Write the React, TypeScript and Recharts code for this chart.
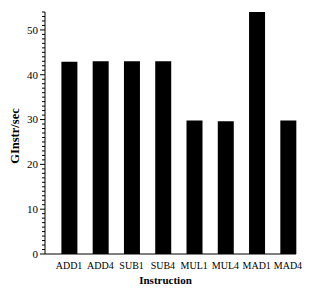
import React from 'react';
import { BarChart, Bar, XAxis, YAxis, Label } from 'recharts';

const categories = ['ADD1', 'ADD4', 'SUB1', 'SUB4', 'MUL1', 'MUL4', 'MAD1', 'MAD4'];
const ginstrPerSec = [42.9, 43.0, 43.0, 43.0, 29.8, 29.6, 54.0, 29.8];
const majorTicks = [0, 10, 20, 30, 40, 50];
const yMax = 54;
const minorTicks = Array.from({ length: yMax + 1 }, (_, i) => i);

const data = categories.map((c, i) => ({ instruction: c, value: ginstrPerSec[i] }));

const FONT = '"Liberation Serif", "Times New Roman", serif';

const YTick = (props: any) => {
  const { x, y, payload } = props;
  const major = majorTicks.includes(payload.value);
  return (
    <g>
      <line x1={x - (major ? 5 : 3)} x2={x} y1={y} y2={y} stroke="#000" strokeWidth={1} />
      {major && (
        <text x={x - 7} y={y} dy="0.35em" textAnchor="end" fontSize={11} fontFamily={FONT} fill="#000">
          {payload.value}
        </text>
      )}
    </g>
  );
};

const YTitle = (props: any) => {
  const vb = props.viewBox || { x: 0, y: 0, width: 45, height: 242 };
  const cx = vb.x + 15;
  const cy = vb.y + vb.height / 2 + 3;
  return (
    <text
      x={cx}
      y={cy}
      dy="0.35em"
      transform={`rotate(-90, ${cx}, ${cy})`}
      textAnchor="middle"
      fontSize={12.5}
      fontWeight="bold"
      fontFamily={FONT}
      fill="#000"
    >
      GInstr/sec
    </text>
  );
};

export default function App() {
  return (
    <div style={{ position: 'absolute', left: 0, top: 0, width: 320, height: 296, background: '#fff' }}>
      <BarChart width={320} height={296} data={data} margin={{ top: 12, right: 24, bottom: 0, left: 0 }}>
        <XAxis
          dataKey="instruction"
          height={42}
          padding={{ left: 8.4, right: -7.6 }}
          tickLine={false}
          axisLine={{ stroke: '#000' }}
          interval={0}
          tick={{ fontSize: 10, fontFamily: FONT, fill: '#000' }}
        >
          <Label value="Instruction" position="insideBottom" offset={12} dx={-5}
            style={{ fontSize: 11, fontWeight: 'bold', fontFamily: FONT, fill: '#000' }} />
        </XAxis>
        <YAxis
          width={45}
          domain={[0, yMax]}
          ticks={minorTicks}
          interval={0}
          tickSize={0}
          tickMargin={0}
          tickLine={false}
          axisLine={{ stroke: '#000' }}
          tick={<YTick />}
          allowDataOverflow
        >
          <Label content={<YTitle />} position="center" />
        </YAxis>
        <Bar dataKey="value" fill="#000" barSize={16} isAnimationActive={false} />
      </BarChart>
    </div>
  );
}
